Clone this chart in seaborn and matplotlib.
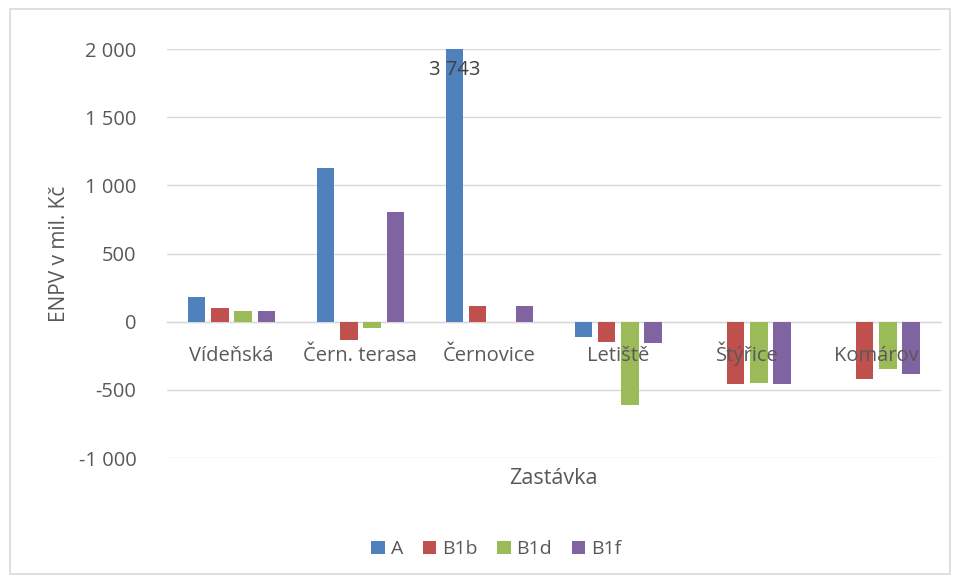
import pandas as pd
import matplotlib
matplotlib.use("Agg")
import matplotlib.pyplot as plt
from matplotlib.patches import Rectangle
from matplotlib.ticker import FuncFormatter, MultipleLocator
import seaborn as sns

# data (ENPV, mil. Kč)
stops = ["Vídeňská", "Čern. terasa", "Černovice", "Letiště", "Štýřice", "Komárov"]
variants = ["A", "B1b", "B1d", "B1f"]
enpv_A = [184, 1125, 3743, -110, 0, 0]
enpv_B1b = [103, -132, 118, -147, -455, -419]
enpv_B1d = [81, -49, 0, -610, -448, -345]
enpv_B1f = [81, 801, 118, -154, -455, -382]
colors = ["#4F81BD", "#C0504D", "#9BBB59", "#8064A2"]

series = {"A": enpv_A, "B1b": enpv_B1b, "B1d": enpv_B1d, "B1f": enpv_B1f}
df = pd.DataFrame(
    [(s, v, series[v][i]) for v in variants for i, s in enumerate(stops)],
    columns=["stop", "variant", "enpv"],
)

sns.set_theme(style="white")
plt.rcParams["font.family"] = ["Open Sans", "DejaVu Sans"]
text_col = "#595959"
grid_col = "#D9D9D9"
fs = 14.5

fig = plt.figure(figsize=(9.58, 5.8), dpi=100)
ax = fig.add_axes([0.1743, 0.2103, 0.8077, 0.7052])

sns.barplot(
    data=df, x="stop", y="enpv", hue="variant",
    order=stops, hue_order=variants, palette=colors,
    saturation=1, errorbar=None, width=0.72, gap=0.25,
    linewidth=0, ax=ax,
)

ax.set_ylim(-1000, 2000)
ax.yaxis.set_major_locator(MultipleLocator(500))
ax.yaxis.set_major_formatter(FuncFormatter(lambda x, p: f"{x:,.0f}".replace(",", " ")))
ax.grid(axis="y", color=grid_col, linewidth=1)
ax.set_axisbelow(True)
# category names are drawn over the bars, like in the original
ax.xaxis.set_zorder(5)

for side in ["top", "right", "left"]:
    ax.spines[side].set_visible(False)
ax.spines["bottom"].set_position(("data", 0))
ax.spines["bottom"].set_color(grid_col)
ax.spines["bottom"].set_linewidth(1)
ax.spines["bottom"].set_zorder(0.6)

ax.tick_params(axis="x", length=0, pad=28.5, labelsize=fs, labelcolor=text_col)
ax.tick_params(axis="y", length=0, pad=22, labelsize=fs, labelcolor=text_col)
for lab in ax.get_xticklabels():
    lab.set_verticalalignment("baseline")

ax.set_xlabel("Zastávka", fontsize=15.5, color=text_col)
ax.xaxis.set_label_coords(0.5, -0.025)
ax.set_ylabel("ENPV v mil. Kč", fontsize=15, color=text_col)
ax.yaxis.set_label_coords(-0.125, 0.5)

# label for the clipped bar (A at Černovice)
bar = ax.containers[0][stops.index("Černovice")]
bx = bar.get_x() + bar.get_width() / 2
ax.annotate(f"{enpv_A[2]:,}".replace(",", " "), (bx, 2000), xytext=(0, -15),
            textcoords="offset points", ha="center", va="center",
            fontsize=fs, color="#404040", annotation_clip=False, zorder=6)

handles, labels = ax.get_legend_handles_labels()
ax.get_legend().remove()
fig.legend(handles, labels, loc="center", bbox_to_anchor=(0.518, 0.053), ncol=4,
           frameon=False, fontsize=14, handlelength=0.7, handleheight=0.7,
           handletextpad=0.3, columnspacing=1.0, labelcolor=text_col)

fig.patches.append(Rectangle((10 / 958, 6 / 580), 940 / 958, 565 / 580,
                             transform=fig.transFigure, fill=False,
                             edgecolor=grid_col, linewidth=1.2))

fig.savefig("out.png", dpi=100)
